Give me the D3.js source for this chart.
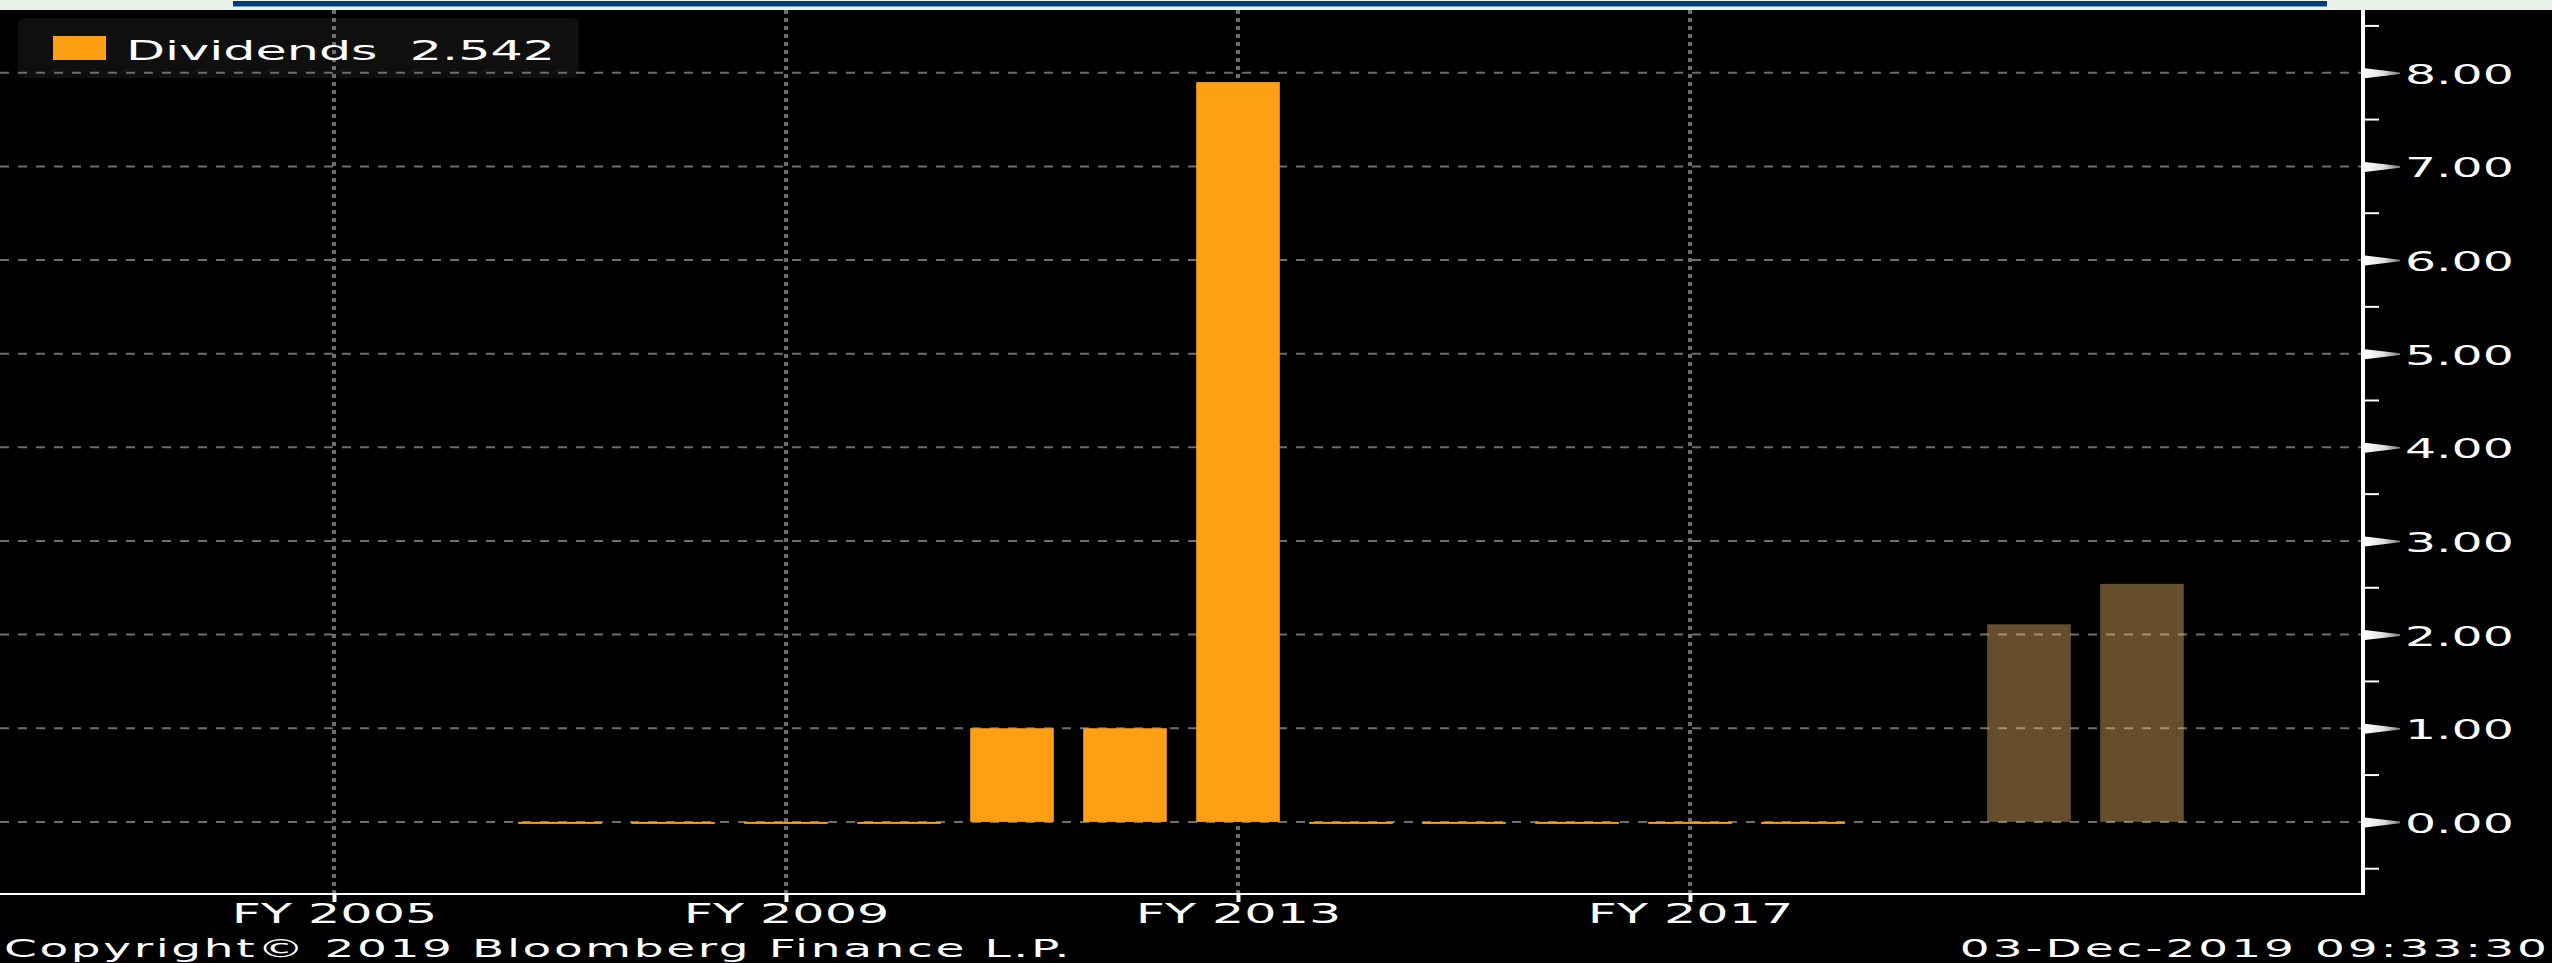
<!DOCTYPE html>
<html>
<head>
<meta charset="utf-8">
<script src="https://cdn.jsdelivr.net/npm/d3@7"></script>
<style>
  body { margin: 0; background: #000; overflow: hidden; }
  text { font-family: "DejaVu Sans", sans-serif; fill: #fff; white-space: pre; }
</style>
</head>
<body>
<svg id="chart"></svg>
<script>

// reported dividends per fiscal year (null = no bar)
const years     = [2005, 2006, 2007, 2008, 2009, 2010, 2011, 2012, 2013, 2014, 2015, 2016, 2017, 2018];
const dividends = [null, null, 0,    0,    0,    0,    1.00, 1.00, 7.90, 0,    0,    0,    0,    0];

// estimates (drawn dimmed)
const estYears  = [2020, 2021];
const estimates = [2.11, 2.542];

const yTicks  = [0, 1, 2, 3, 4, 5, 6, 7, 8];
const yMinor  = [-0.5, 0.5, 1.5, 2.5, 3.5, 4.5, 5.5, 6.5, 7.5, 8.5];
const xTicks  = [2005, 2009, 2013, 2017];

const legendLabel = "Dividends  2.542";
const copyright   = "Copyright\u00A9 2019 Bloomberg Finance L.P.";
const stamp       = "03-Dec-2019 09:33:30";

const W = 2552, H = 963;
const SX = 1.88;            // the picture is stretched sideways, text too
const plotRight = 2363, plotTop = 10, plotBottom = 894;

const svg = d3.select("#chart").attr("width", W).attr("height", H);

svg.append("rect").attr("width", W).attr("height", H).attr("fill", "#000");

// top strip
svg.append("rect").attr("x", 0).attr("y", 0).attr("width", W).attr("height", plotTop).attr("fill", "#e8f3ea");
svg.append("rect").attr("x", 233).attr("y", 1).attr("width", 2094).attr("height", 5).attr("fill", "#003d7a");
svg.append("rect").attr("x", 233).attr("y", 6).attr("width", 2094).attr("height", 1).attr("fill", "#7a9cbf");

let x = d3.scaleLinear()
          .domain([2005, 2017])
          .range([334, 1690]);

let y = d3.scaleLinear()
          .domain([-0.77, 8.67])
          .range([plotBottom, plotTop]);

// legend box (under the grid, the grid shows through)
svg.append("rect")
   .attr("x", 18).attr("y", 18)
   .attr("width", 561).attr("height", 60)
   .attr("rx", 6).attr("ry", 6)
   .attr("fill", "#0f0f0f");

//grid
svg.append("g")
   .selectAll("line")
   .data(yTicks)
   .enter()
   .append("line")
   .attr("x1", 0)
   .attr("x2", plotRight - 2)
   .attr("y1", d => y(d))
   .attr("y2", d => y(d))
   .attr("stroke", "#6e6e6e")
   .attr("stroke-width", 2)
   .attr("stroke-dasharray", "9,9");

svg.append("g")
   .selectAll("line")
   .data(xTicks)
   .enter()
   .append("line")
   .attr("x1", d => x(d))
   .attr("x2", d => x(d))
   .attr("y1", plotTop)
   .attr("y2", plotBottom)
   .attr("stroke", "#6e6e6e")
   .attr("stroke-width", 4)
   .attr("stroke-dasharray", "4,4");

// bars
const step = x(2006) - x(2005);
const bw = step * 0.74;

const actual = years.map((yr, i) => ({year: yr, v: dividends[i]})).filter(d => d.v != null);
const est = estYears.map((yr, i) => ({year: yr, v: estimates[i]}));

svg.append("g")
   .selectAll("rect")
   .data(actual)
   .enter()
   .append("rect")
   .attr("x", d => x(d.year) - bw / 2)
   .attr("y", d => y(d.v))
   .attr("width", bw)
   .attr("height", d => Math.max(2, y(0) - y(d.v)))
   .attr("fill", "#ffa014");

svg.append("g")
   .selectAll("rect")
   .data(est)
   .enter()
   .append("rect")
   .attr("x", d => x(d.year) - bw / 2)
   .attr("y", d => y(d.v))
   .attr("width", bw)
   .attr("height", d => y(0) - y(d.v))
   .attr("fill", "#ffc370")
   .attr("fill-opacity", 0.4);

// x axis
svg.append("line")
   .attr("x1", 0).attr("x2", plotRight + 2)
   .attr("y1", plotBottom).attr("y2", plotBottom)
   .attr("stroke", "#fff").attr("stroke-width", 2);

let xAxis = svg.append("g")
   .attr("transform", `translate(0,${plotBottom})`)
   .call(d3.axisBottom(x).tickValues(xTicks).tickSize(8).tickFormat(d => "FY " + d));
xAxis.select(".domain").remove();
xAxis.selectAll(".tick line").attr("stroke", "#fff").attr("stroke-width", 4);
xAxis.selectAll(".tick text")
     .attr("y", null).attr("dy", null)
     .attr("fill", "#fff")
     .style("font-size", "27px")
     .attr("transform", `translate(0,29) scale(${SX},1)`);

// y axis
svg.append("line")
   .attr("x1", plotRight).attr("x2", plotRight)
   .attr("y1", plotTop).attr("y2", plotBottom + 1)
   .attr("stroke", "#fff").attr("stroke-width", 4);

let defs = svg.append("defs");
let grad = defs.append("linearGradient").attr("id", "arrowGrad");
grad.append("stop").attr("offset", "0%").attr("stop-color", "#ffffff");
grad.append("stop").attr("offset", "55%").attr("stop-color", "#dddddd");
grad.append("stop").attr("offset", "100%").attr("stop-color", "#777777");

let yAxis = svg.append("g")
   .attr("transform", `translate(${plotRight + 2},0)`)
   .call(d3.axisRight(y).tickValues(yTicks).tickSize(0).tickFormat(d3.format(".2f")));
yAxis.select(".domain").remove();
yAxis.selectAll(".tick")
     .append("path")
     .attr("d", "M0,-5L35,-0.8L35,0.8L0,5Z")
     .attr("fill", "url(#arrowGrad)");
yAxis.selectAll(".tick text")
     .attr("x", null).attr("dy", null)
     .attr("fill", "#fff")
     .attr("text-anchor", "start")
     .style("font-size", "26px")
     .attr("transform", `translate(40,10.5) scale(${SX},1)`);

svg.append("g")
   .selectAll("line")
   .data(yMinor)
   .enter()
   .append("line")
   .attr("x1", plotRight + 2)
   .attr("x2", plotRight + 16)
   .attr("y1", d => y(d))
   .attr("y2", d => y(d))
   .attr("stroke", "#fff")
   .attr("stroke-width", 2);

// legend
svg.append("rect")
   .attr("x", 53).attr("y", 36)
   .attr("width", 53).attr("height", 24)
   .attr("fill", "#ffa014");
svg.append("text")
   .attr("transform", `translate(126,60) scale(${SX},1)`)
   .style("font-size", "27px")
   .text(legendLabel);

// footer
svg.append("text")
   .attr("transform", `translate(4,957) scale(${SX},1)`)
   .style("font-size", "25px")
   .style("letter-spacing", "1.4px")
   .text(copyright);
svg.append("text")
   .attr("transform", `translate(2550,957) scale(${SX},1)`)
   .attr("text-anchor", "end")
   .style("font-size", "25px")
   .style("letter-spacing", "1.6px")
   .text(stamp);

</script>
</body>
</html>
